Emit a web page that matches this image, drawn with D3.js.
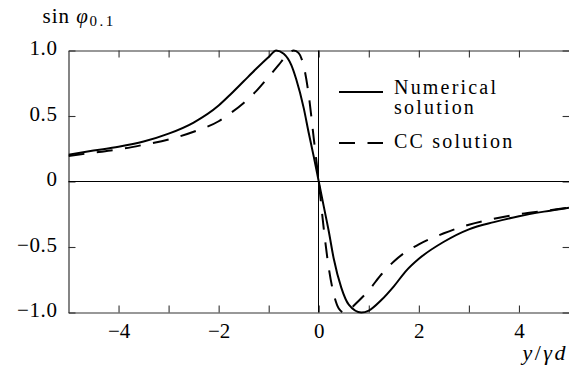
<!DOCTYPE html>
<html>
<head>
<meta charset="utf-8">
<script src="https://cdn.jsdelivr.net/npm/d3@7"></script>
<style>
  html, body { margin: 0; padding: 0; background: #fff; }
  svg { display: block; }
</style>
</head>
<body>
<svg id="chart" width="569" height="377"></svg>
<script>
// Numerical solution: sin(phi_0.1) against y / (gamma d)
const numX = [-5, -4.5, -4, -3.5, -3, -2.5, -2, -1.75, -1.5, -1.25, -1, -0.85, -0.7, -0.55, -0.45, -0.3, -0.2, -0.1,
              0, 0.1, 0.2, 0.3, 0.45, 0.6, 0.85, 1.0, 1.25, 1.5, 1.75, 2, 2.5, 3, 3.5, 4, 4.5, 5];
const numY = [0.205, 0.236, 0.265, 0.305, 0.365, 0.45, 0.58, 0.67, 0.765, 0.86, 0.95, 1.0, 0.975, 0.89, 0.78, 0.56, 0.37, 0.19,
              0, -0.19, -0.38, -0.59, -0.81, -0.94, -1.0, -0.985, -0.905, -0.80, -0.68, -0.59, -0.46, -0.365, -0.31, -0.265, -0.23, -0.2];

// CC (closed-form) solution
const ccX = [-5, -4.5, -4, -3.5, -3, -2.5, -2, -1.75, -1.5, -1.25, -1, -0.8, -0.65, -0.5, -0.4, -0.3, -0.2, -0.1,
             0, 0.1, 0.2, 0.3, 0.4, 0.5, 0.65, 0.8, 1, 1.25, 1.5, 1.75, 2, 2.5, 3, 3.5, 4, 4.5, 5];
const ccY = [0.195, 0.22, 0.245, 0.28, 0.32, 0.38, 0.46, 0.525, 0.60, 0.69, 0.80, 0.89, 0.96, 1.0, 0.98, 0.88, 0.66, 0.33,
             0, -0.36, -0.66, -0.86, -0.97, -1.0, -0.965, -0.91, -0.83, -0.71, -0.61, -0.535, -0.48, -0.395, -0.33, -0.285, -0.25, -0.225, -0.2];

// Axis ticks
const xTicks = [-4, -3, -2, -1, 0, 1, 2, 3, 4];
const xLabeled = [-4, -2, 0, 2, 4];
const yTicks = [-1, -0.5, 0, 0.5, 1];

// Legend labels (first one wraps onto two lines)
const seriesNames = [["Numerical", "solution"], ["CC solution"]];

const FONT = "'Liberation Serif', LiberationSerif, Tinos, 'Times New Roman', Times, 'Nimbus Roman', 'Noto Serif', FreeSerif, 'DejaVu Serif', serif";

const svg = d3.select("#chart");
const x = d3.scaleLinear().domain([-5, 5]).range([68.5, 569]);
const y = d3.scaleLinear().domain([-1, 1]).range([312.5, 50.5]);

const fmtX = d => d === 0 ? "0" : d3.format("d")(d);
const fmtY = d => d === 0 ? "0" : d3.format(".1f")(d);

function styleAxis(g) {
  g.attr("font-family", FONT).attr("font-size", 21);
  g.select(".domain").attr("stroke", "#333").attr("stroke-width", 1.2);
  g.selectAll(".tick line").attr("stroke", "#333").attr("stroke-width", 1.1);
  g.selectAll(".tick text").style("font-family", FONT).attr("font-size", 21).attr("fill", "#000");
}

// bottom axis with labels
svg.append("g")
  .attr("transform", "translate(0,312.5)")
  .call(d3.axisBottom(x).tickValues(xTicks).tickSizeInner(-7).tickSizeOuter(0).tickPadding(10.5)
        .tickFormat(d => xLabeled.includes(d) ? fmtX(d) : ""))
  .call(styleAxis);

// top axis, ticks only
svg.append("g")
  .attr("transform", "translate(0,50.5)")
  .call(d3.axisTop(x).tickValues(xTicks).tickSizeInner(-7).tickSizeOuter(0).tickFormat(""))
  .call(styleAxis);

// left axis with labels
const gl = svg.append("g")
  .attr("transform", "translate(68.5,0)")
  .call(d3.axisLeft(y).tickValues(yTicks).tickSizeInner(-7).tickSizeOuter(0).tickPadding(11).tickFormat(fmtY))
  .call(styleAxis);
gl.selectAll(".tick text").attr("dy", "0.19em").attr("letter-spacing", 0.6);

// right axis, ticks only
svg.append("g")
  .attr("transform", "translate(569.6,0)")
  .call(d3.axisRight(y).tickValues(yTicks).tickSizeInner(-7).tickSizeOuter(0).tickFormat(""))
  .call(styleAxis);

// zero lines
const x0 = Math.floor(x(0)) + 0.5;
svg.append("line")
  .attr("x1", x(-5)).attr("x2", x(5)).attr("y1", y(0)).attr("y2", y(0))
  .attr("stroke", "#000").attr("stroke-width", 1);
svg.append("line")
  .attr("x1", x0).attr("x2", x0).attr("y1", y(-1)).attr("y2", y(1))
  .attr("stroke", "#000").attr("stroke-width", 1);

// curves
svg.append("clipPath").attr("id", "plotClip")
  .append("rect").attr("x", x(-5)).attr("y", y(1) - 3).attr("width", x(5) - x(-5)).attr("height", y(-1) - y(1) + 6);

const line = d3.line().x(d => x(d[0])).y(d => y(d[1])).curve(d3.curveMonotoneX);
const numData = numX.map((v, i) => [v, numY[i]]);
const ccData = ccX.map((v, i) => [v, ccY[i]]);

const plot = svg.append("g").attr("clip-path", "url(#plotClip)");
plot.append("path").datum(numData).attr("d", line)
  .attr("fill", "none").attr("stroke", "#000").attr("stroke-width", 2);
plot.append("path").datum(ccData).attr("d", line)
  .attr("fill", "none").attr("stroke", "#000").attr("stroke-width", 2)
  .attr("stroke-dasharray", "16,12.5");

// legend
const lg = svg.append("g").style("font-family", FONT).attr("font-size", 20);
const legendRows = [
  { lineY: 92, textY: 93.5, dash: null },
  { lineY: 143, textY: 147.5, dash: "16,12.5" }
];
legendRows.forEach((r, i) => {
  const ln = lg.append("line").attr("x1", 339).attr("x2", 383).attr("y1", r.lineY).attr("y2", r.lineY)
    .attr("stroke", "#000").attr("stroke-width", 2);
  if (r.dash) ln.attr("stroke-dasharray", r.dash);
  const t = lg.append("text").attr("x", 394).attr("y", r.textY)
    .style("font-family", FONT).attr("letter-spacing", 2.2);
  seriesNames[i].forEach((s, j) => {
    t.append("tspan").attr("x", 394).attr("dy", j === 0 ? 0 : 20.5).text(s);
  });
});

// axis titles
const yt = svg.append("text").attr("x", 42.5).attr("y", 22.7).attr("font-size", 21).style("font-family", FONT);
yt.append("tspan").attr("letter-spacing", 1).text("sin ");
yt.append("tspan").attr("font-style", "italic").text("φ");
yt.append("tspan").attr("font-size", 15).attr("dy", 3).attr("dx", 1.5).attr("letter-spacing", 2.5).text("0.1");

const xt = svg.append("text").attr("x", 568).attr("y", 360).attr("font-size", 22)
  .style("font-family", FONT).attr("text-anchor", "end").attr("letter-spacing", 2.5);
xt.append("tspan").attr("font-style", "italic").text("y");
xt.append("tspan").text("/");
xt.append("tspan").attr("font-style", "italic").text("γd");
</script>
</body>
</html>
